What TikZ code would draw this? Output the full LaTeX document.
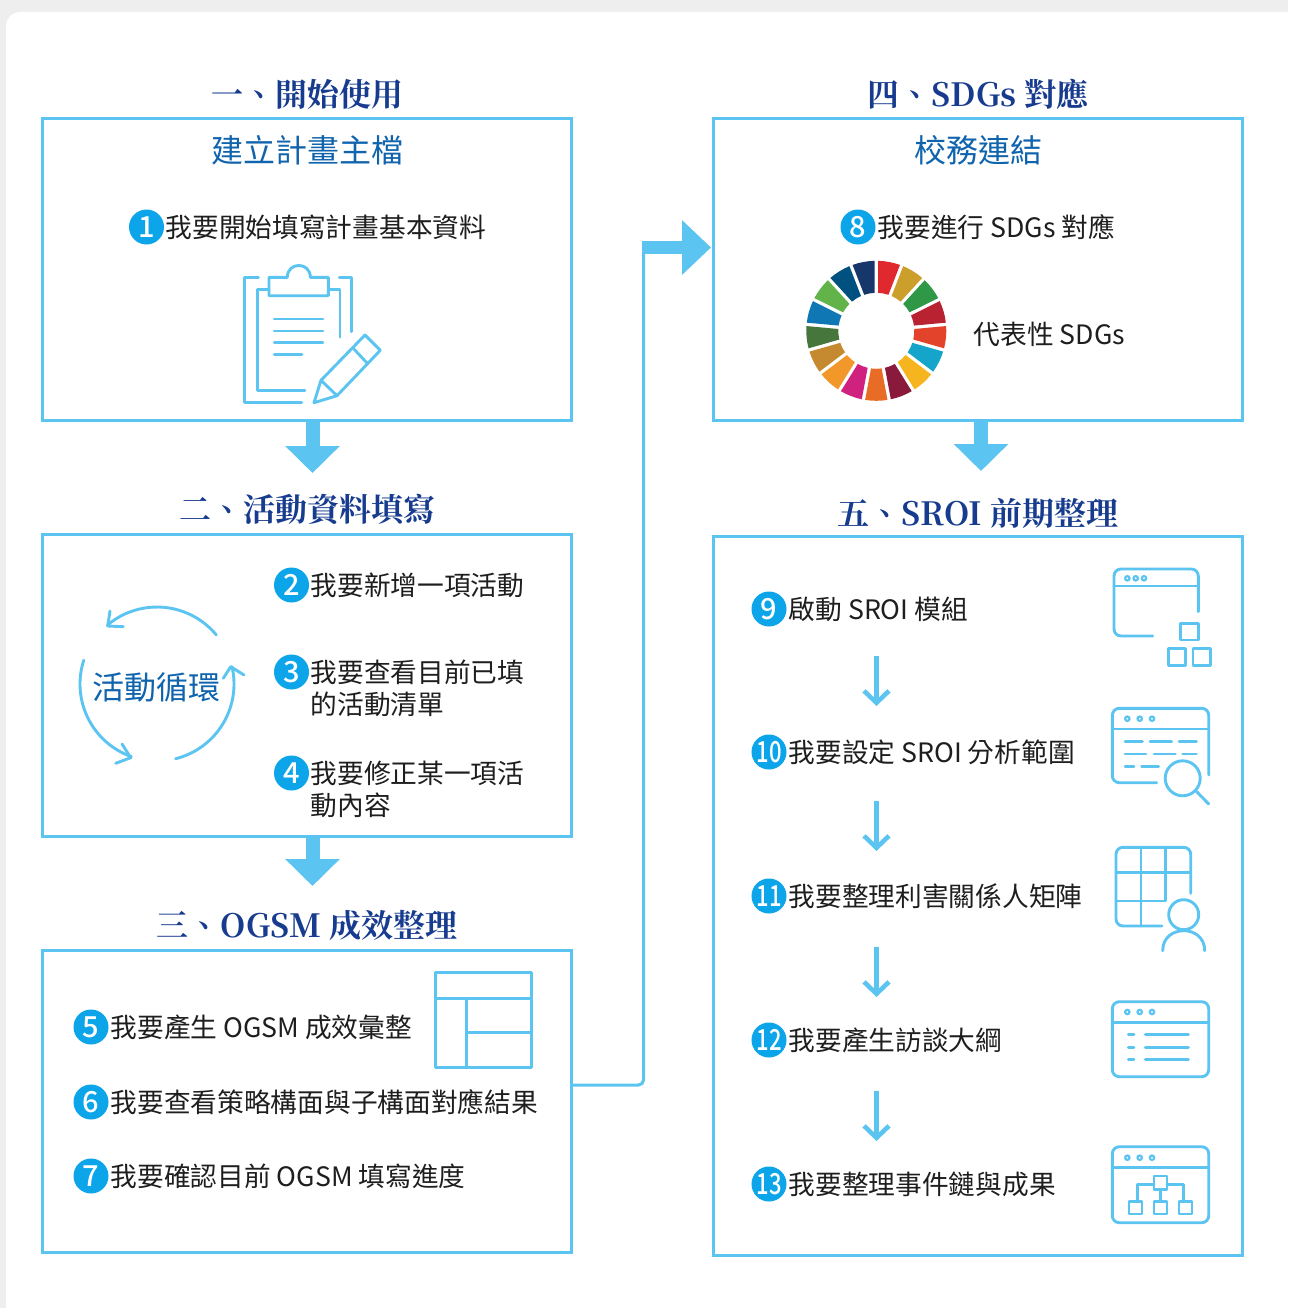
\documentclass[tikz,border=0pt]{standalone}
\usepackage{fontspec}
\setmainfont{Noto Sans CJK TC}
\newfontfamily\titlefont{Noto Serif CJK TC}[BoldFont={Noto Serif CJK TC Bold}]
\newfontfamily\numfont{Noto Sans CJK TC Medium}
\usetikzlibrary{arrows.meta,calc}
\definecolor{skyc}{HTML}{5BC4F1}
\definecolor{numc}{HTML}{0CA5E9}
\definecolor{titlec}{HTML}{173B8E}
\definecolor{subc}{HTML}{0F64AD}
\definecolor{textc}{HTML}{1E1E1E}
\definecolor{bgc}{HTML}{EEEEEE}
\tikzset{
  box/.style={draw=skyc,line width=2.8pt,inner sep=0pt,outer sep=0pt,minimum width=529pt},
  sectitle/.style={text=titlec,font=\titlefont\bfseries\fontsize{32}{36}\selectfont,inner sep=0pt},
  subtitle/.style={text=subc,font=\fontsize{32}{36}\selectfont,inner sep=0pt},
  itemtext/.style={text=textc,font=\fontsize{26.7}{32}\selectfont,inner sep=0pt,anchor=west,align=left},
  num/.style={circle,fill=numc,text=white,minimum size=35pt,inner sep=0pt,font=\numfont\fontsize{29}{30}\selectfont},
  bigarrow/.style={draw=skyc,line width=14pt,-{Triangle[length=27pt,width=53pt]}},
  thinarrow/.style={draw=skyc,line width=4.6pt,-{Straight Barb[length=12pt,width=25pt]}},
  link/.style={draw=skyc,line width=3pt,rounded corners=5pt},
  icon/.style={draw=skyc,line width=2.9pt,line cap=round,line join=round},
  dotc/.style={draw=skyc,line width=2.2pt},
}
\newcommand{\windots}[4]{\foreach \dx in {#1,#2,#3}{\draw[dotc] (\dx,#4) circle[radius=2.2pt];}}
\newcommand{\narrownum}[1]{\scalebox{.76}[1]{#1}}
\begin{document}
\begin{tikzpicture}[x=1pt,y=-1pt]
\useasboundingbox (0,0) rectangle (1288,1308);
\clip (0,0) rectangle (1288,1308);
\fill[bgc] (0,0) rectangle (1288,1308);
\fill[white,rounded corners=14pt] (6,12) rectangle (1310,1330);

% boxes
\node[box,minimum height=302.5pt] (b1) at (307,269.5) {};
\node[box,minimum height=302.5pt] (b2) at (307,685.5) {};
\node[box,minimum height=302.5pt] (b3) at (307,1101.5) {};
\node[box,minimum height=302.5pt] (b4) at (978,269.5) {};
\node[box,minimum height=719pt] (b5) at (978,896) {};

% titles
\node[sectitle] (t1) at (307,94) {一、開始使用};
\node[sectitle] (t2) at (307,510) {二、活動資料填寫};
\node[sectitle] (t3) at (307,926) {三、OGSM 成效整理};
\node[sectitle] (t4) at (978,94) {四、SDGs 對應};
\node[sectitle] (t5) at (978,513) {五、SROI 前期整理};
\node[subtitle] (s1) at (307,150) {建立計畫主檔};
\node[subtitle] (s4) at (978,150) {校務連結};
\node[subtitle] (s2) at (156,687) {活動循環};

% numbered items
\node[num] (n1) at (146.5,227) {1};
\node[itemtext] (i1) at (165.5,227) {我要開始填寫計畫基本資料};
\node[num] (n2) at (291.5,585) {2};
\node[itemtext] (i2) at (310.5,585) {我要新增一項活動};
\node[num] (n3) at (291.5,672) {3};
\node[itemtext] (i3) at (310.5,688) {我要查看目前已填\\的活動清單};
\node[num] (n4) at (291.5,773) {4};
\node[itemtext] (i4) at (310.5,789) {我要修正某一項活\\動內容};
\node[num] (n5) at (91,1027) {5};
\node[itemtext] (i5) at (110.5,1027) {我要產生 OGSM 成效彙整};
\node[num] (n6) at (91,1102) {6};
\node[itemtext] (i6) at (110.5,1102) {我要查看策略構面與子構面對應結果};
\node[num] (n7) at (91,1176) {7};
\node[itemtext] (i7) at (110.5,1176) {我要確認目前 OGSM 填寫進度};
\node[num] (n8) at (858,227) {8};
\node[itemtext] (i8) at (877.5,227) {我要進行 SDGs 對應};
\node[itemtext] (rep) at (973.5,334) {代表性 SDGs};
\node[num] (n9) at (769,609) {9};
\node[itemtext] (i9) at (788.5,609) {啟動 SROI 模組};
\node[num] (n10) at (769,752) {\narrownum{10}};
\node[itemtext] (i10) at (788.5,752) {我要設定 SROI 分析範圍};
\node[num] (n11) at (769,896) {\narrownum{11}};
\node[itemtext] (i11) at (788.5,896) {我要整理利害關係人矩陣};
\node[num] (n12) at (769,1040) {\narrownum{12}};
\node[itemtext] (i12) at (788.5,1040) {我要產生訪談大綱};
\node[num] (n13) at (769,1184) {\narrownum{13}};
\node[itemtext] (i13) at (788.5,1184) {我要整理事件鏈與成果};

% block arrows between boxes
\coordinate (a1) at (312.5,473);
\coordinate (a2) at (312.5,886);
\coordinate (a4) at (981,471);
\draw[bigarrow] (a1 |- b1.south) -- (a1);
\draw[bigarrow] (a2 |- b2.south) -- (a2);
\draw[bigarrow] (a4 |- b4.south) -- (a4);

% link from box 3 to box 4
\coordinate (l1) at (570,1085);
\coordinate (l2) at (643.5,247);
\coordinate (l3) at (642,247.5);
\coordinate (l4) at (711,247.5);
\draw[link] (l1) -| (l2);
\draw[bigarrow,line width=13.5pt,-{Triangle[length=29pt,width=53pt]}] (l3) -- (l4);

% thin arrows in box 5
\coordinate (f1) at (876.5,656); \coordinate (e1) at (876.5,706);
\coordinate (f2) at (876.5,801); \coordinate (e2) at (876.5,851);
\coordinate (f3) at (876.5,947); \coordinate (e3) at (876.5,997);
\coordinate (f4) at (876.5,1091); \coordinate (e4) at (876.5,1141);
\draw[thinarrow] (f1) -- (e1);
\draw[thinarrow] (f2) -- (e2);
\draw[thinarrow] (f3) -- (e3);
\draw[thinarrow] (f4) -- (e4);

% clipboard icon
\draw[icon] (258.3,277.3) -- (244.7,277.3) -- (244.7,402.7) -- (301.7,402.7);
\draw[icon] (339.3,277.3) -- (351.7,277.3) -- (351.7,331.7);
\draw[icon] (269,289.3) -- (257.3,289.3) -- (257.3,390.7) -- (305,390.7);
\draw[icon] (328.3,289.3) -- (340,289.3) -- (340,337.3);
\draw[icon] (269,277.3) -- (287.3,277.3) .. controls (287.3,261.5) and (310.3,261.5) .. (310.3,277.3) -- (328.3,277.3) -- (328.3,295.7) -- (269,295.7) -- cycle;
\draw[icon] (274.3,319) -- (323,319);
\draw[icon] (274.3,331) -- (323,331);
\draw[icon] (274.3,342.7) -- (323,342.7);
\draw[icon] (274.3,354.7) -- (302,354.7);
\draw[icon] (321,380.3) -- (365,335) -- (380.3,350.3) -- (337,395.7) -- (314,402.7) -- cycle;
\draw[icon] (321,380.3) -- (337,395.7);
\draw[icon] (353,348) -- (367,363);

% SDG wheel
\begin{scope}[shift={(876.3,330.8)}]
\foreach \k/\c in {0/E0282F,1/CC9F2D,2/2E9847,3/B82231,4/E4432B,5/15A5CB,6/F6B51E,7/8A1A3C,8/E96C26,9/D0217F,10/F2982A,11/C58A2F,12/47763C,13/0F77B3,14/62B44A,15/00517F,16/17376B}{
  \definecolor{wc}{HTML}{\c}
  \pgfmathsetmacro{\mid}{79.41-21.176*\k}
  \pgfmathsetmacro{\oa}{\mid+9.2}
  \pgfmathsetmacro{\ob}{\mid-9.2}
  \pgfmathsetmacro{\ia}{\mid+8.0}
  \pgfmathsetmacro{\ib}{\mid-8.0}
  \fill[wc] (\oa:70pt) arc[start angle=\oa,end angle=\ob,radius=70pt] -- (\ib:38pt) arc[start angle=\ib,end angle=\ia,radius=38pt] -- cycle;
}
\end{scope}

% activity cycle
\begin{scope}[shift={(157,684)}]
\draw[icon] (39.6:77pt) arc[start angle=39.6,end angle=130,radius=77pt];
\draw[icon] (162:77pt) arc[start angle=162,end angle=250.6,radius=77pt];
\draw[icon] (-76:77pt) arc[start angle=-76,end angle=13,radius=77pt];
\end{scope}
\draw[icon] (110,611) -- (107.7,626) -- (123.3,626.7);
\draw[icon] (122,744) -- (130.7,757.7) -- (115.7,763.3);
\draw[icon] (223.3,678.3) -- (230.7,666.7) -- (244,675);

% OGSM table icon
\draw[icon] (435.7,972.7) rectangle (531.7,1067.7);
\draw[icon] (435.7,998.3) -- (531.7,998.3);
\draw[icon] (466.7,998.3) -- (466.7,1067.7);
\draw[icon] (466.7,1032.7) -- (531.7,1032.7);

% icon 9
\draw[icon,rounded corners=7pt] (1152.7,636) -- (1114,636) -- (1114,569) -- (1198.3,569) -- (1198.3,611.7);
\draw[icon] (1114,586) -- (1198.3,586);
\windots{1127.3}{1135.7}{1144}{578.3}
\draw[icon] (1180.7,623.3) rectangle (1198.3,640);
\draw[icon] (1168.3,648.3) rectangle (1185.7,665.7);
\draw[icon] (1193,648.3) rectangle (1210.3,665.7);

% icon 10
\draw[icon,rounded corners=7pt] (1156.7,782.7) -- (1112.3,782.7) -- (1112.3,708.3) -- (1208.7,708.3) -- (1208.7,775);
\draw[icon] (1112.3,729) -- (1208.7,729);
\windots{1127.3}{1139.7}{1152}{718.7}
\draw[icon] (1125,741.7) -- (1142.3,741.7) (1150,741.7) -- (1171.7,741.7) (1179,741.7) -- (1196.3,741.7);
\draw[icon] (1125,754) -- (1146,754) (1154,754) -- (1175.3,754) (1182.7,754) -- (1196.3,754);
\draw[icon] (1125,766.3) -- (1134,766.3) (1141.7,766.3) -- (1158.7,766.3);
\draw[icon] (1182.7,778.3) circle[radius=17.5pt];
\draw[icon] (1196.7,791.7) -- (1208.7,804);

% icon 11
\draw[icon,rounded corners=7pt] (1162,926) -- (1116,926) -- (1116,847.3) -- (1190.7,847.3) -- (1190.7,893.3);
\draw[icon] (1116,872.3) -- (1190.7,872.3);
\draw[icon] (1116,901) -- (1165.7,901) -- (1165.7,847.3);
\draw[icon] (1141,847.3) -- (1141,926);
\draw[icon] (1183.7,914.7) circle[radius=15pt];
\draw[icon] (1162.7,950.7) .. controls (1162.7,924) and (1204.7,924) .. (1204.7,950.7);

% icon 12
\draw[icon,rounded corners=7pt] (1112.3,1001.7) rectangle (1208.7,1076.7);
\draw[icon] (1112.3,1022.3) -- (1208.7,1022.3);
\windots{1127.3}{1139.7}{1152}{1012}
\draw[icon] (1128.3,1034.7) -- (1134,1034.7) (1145.3,1034.7) -- (1188.3,1034.7);
\draw[icon] (1128.3,1047.3) -- (1134,1047.3) (1145.3,1047.3) -- (1188.3,1047.3);
\draw[icon] (1128.3,1059.7) -- (1134,1059.7) (1145.3,1059.7) -- (1188.3,1059.7);

% icon 13
\draw[icon,rounded corners=7pt] (1112.3,1146.7) rectangle (1208.7,1222.7);
\draw[icon] (1112.3,1167.7) -- (1208.7,1167.7);
\windots{1127.3}{1139.7}{1152}{1157.7}
\draw[icon] (1154,1176) rectangle (1167,1189.3);
\draw[icon] (1129,1201.3) rectangle (1142,1214);
\draw[icon] (1154,1201.3) rectangle (1167,1214);
\draw[icon] (1179,1201.3) rectangle (1192,1214);
\draw[icon] (1137.3,1201.3) -- (1137.3,1184.3) -- (1154,1184.3);
\draw[icon] (1167,1184.3) -- (1183.3,1184.3) -- (1183.3,1201.3);
\draw[icon] (1160.3,1189.3) -- (1160.3,1201.3);
\end{tikzpicture}
\end{document}
